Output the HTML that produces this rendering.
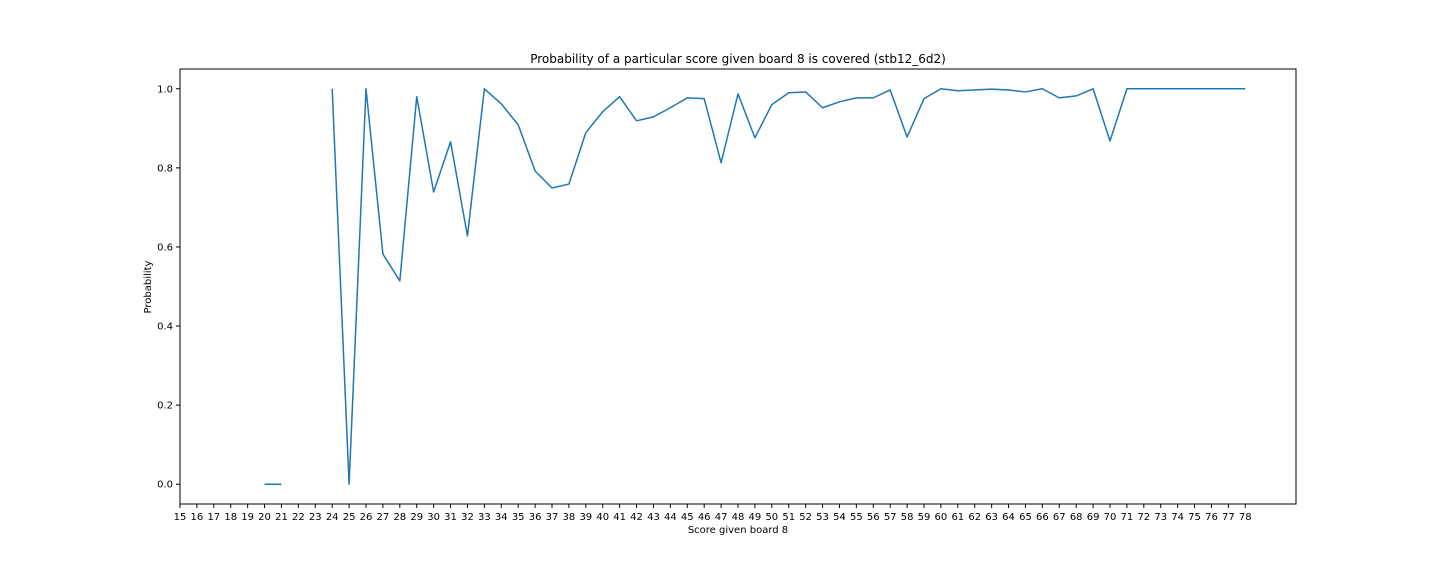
<!DOCTYPE html>
<html><head><meta charset="utf-8">
<style>
html,body{margin:0;padding:0;background:#fff;}
svg text{font-family:"DejaVu Sans","Liberation Sans",sans-serif;fill:#000;}
</style></head>
<body>
<svg id="chart" width="1440" height="576" viewBox="0 0 1440 576" xmlns="http://www.w3.org/2000/svg">
<text x="738" y="63" font-size="12" text-anchor="middle">Probability of a particular score given board 8 is covered (stb12_6d2)</text>
<g id="grid"></g>
<path id="line" fill="none" stroke="#1f77b4" stroke-width="1.5" stroke-linejoin="round"></path>
<rect x="180" y="69" width="1116" height="435" fill="none" stroke="#000" stroke-width="1"/>
<text x="738" y="533" font-size="10" text-anchor="middle">Score given board 8</text>
<text x="151" y="287" font-size="10" text-anchor="middle" transform="rotate(-90 151 287)">Probability</text>
</svg>
<script>
const scores = [20,21,22,23,24,25,26,27,28,29,30,31,32,33,34,35,36,37,38,39,40,41,42,43,44,45,46,47,48,49,50,51,52,53,54,55,56,57,58,59,60,61,62,63,64,65,66,67,68,69,70,71,72,73,74,75,76,77,78];
const probs = [0,0,null,null,1.0,0,1.0,0.582,0.514,0.98,0.739,0.866,0.628,1.0,0.962,0.909,0.792,0.749,0.759,0.889,0.942,0.98,0.919,0.929,0.952,0.977,0.975,0.813,0.987,0.876,0.96,0.99,0.992,0.952,0.967,0.977,0.977,0.997,0.878,0.975,1.0,0.995,0.997,0.999,0.997,0.992,1.0,0.977,0.982,1.0,0.868,1,1,1,1,1,1,1,1];
const xTicks = [15,16,17,18,19,20,21,22,23,24,25,26,27,28,29,30,31,32,33,34,35,36,37,38,39,40,41,42,43,44,45,46,47,48,49,50,51,52,53,54,55,56,57,58,59,60,61,62,63,64,65,66,67,68,69,70,71,72,73,74,75,76,77,78];
const yTicks = [0.0,0.2,0.4,0.6,0.8,1.0];

const L=180,R=1296,T=69,B=504;
const xMin=15,xMax=81,yMin=-0.05,yMax=1.05;
const sx=v=>L+(v-xMin)/(xMax-xMin)*(R-L);
const sy=v=>B-(v-yMin)/(yMax-yMin)*(B-T);
const NS="http://www.w3.org/2000/svg";
const g=document.getElementById('grid');
xTicks.forEach(t=>{
  const x=sx(t);
  const l=document.createElementNS(NS,'line');
  l.setAttribute('x1',x);l.setAttribute('x2',x);l.setAttribute('y1',B);l.setAttribute('y2',B+4);
  l.setAttribute('stroke','#000');
  
  
  g.appendChild(l);
  const tx=document.createElementNS(NS,'text');
  tx.setAttribute('x',x);tx.setAttribute('y',B+16);tx.setAttribute('font-size','10');tx.setAttribute('text-anchor','middle');
  tx.textContent=t;
  
  
  g.appendChild(tx);
});
yTicks.forEach(t=>{
  const y=sy(t);
  const l=document.createElementNS(NS,'line');
  l.setAttribute('x1',L-4);l.setAttribute('x2',L);l.setAttribute('y1',y);l.setAttribute('y2',y);
  l.setAttribute('stroke','#000');
  
  
  g.appendChild(l);
  const tx=document.createElementNS(NS,'text');
  tx.setAttribute('x',L-7);tx.setAttribute('y',y+3.5);tx.setAttribute('font-size','10');tx.setAttribute('text-anchor','end');
  tx.textContent=t.toFixed(1);
  
  
  g.appendChild(tx);
});
let d='',pen=false;
scores.forEach((s,i)=>{
  const p=probs[i];
  if(p===null){pen=false;return;}
  d+=(pen?'L':'M')+sx(s).toFixed(2)+' '+sy(p).toFixed(2)+' ';
  pen=true;
});
document.getElementById('line').setAttribute('d',d);
</script>
</body></html>
